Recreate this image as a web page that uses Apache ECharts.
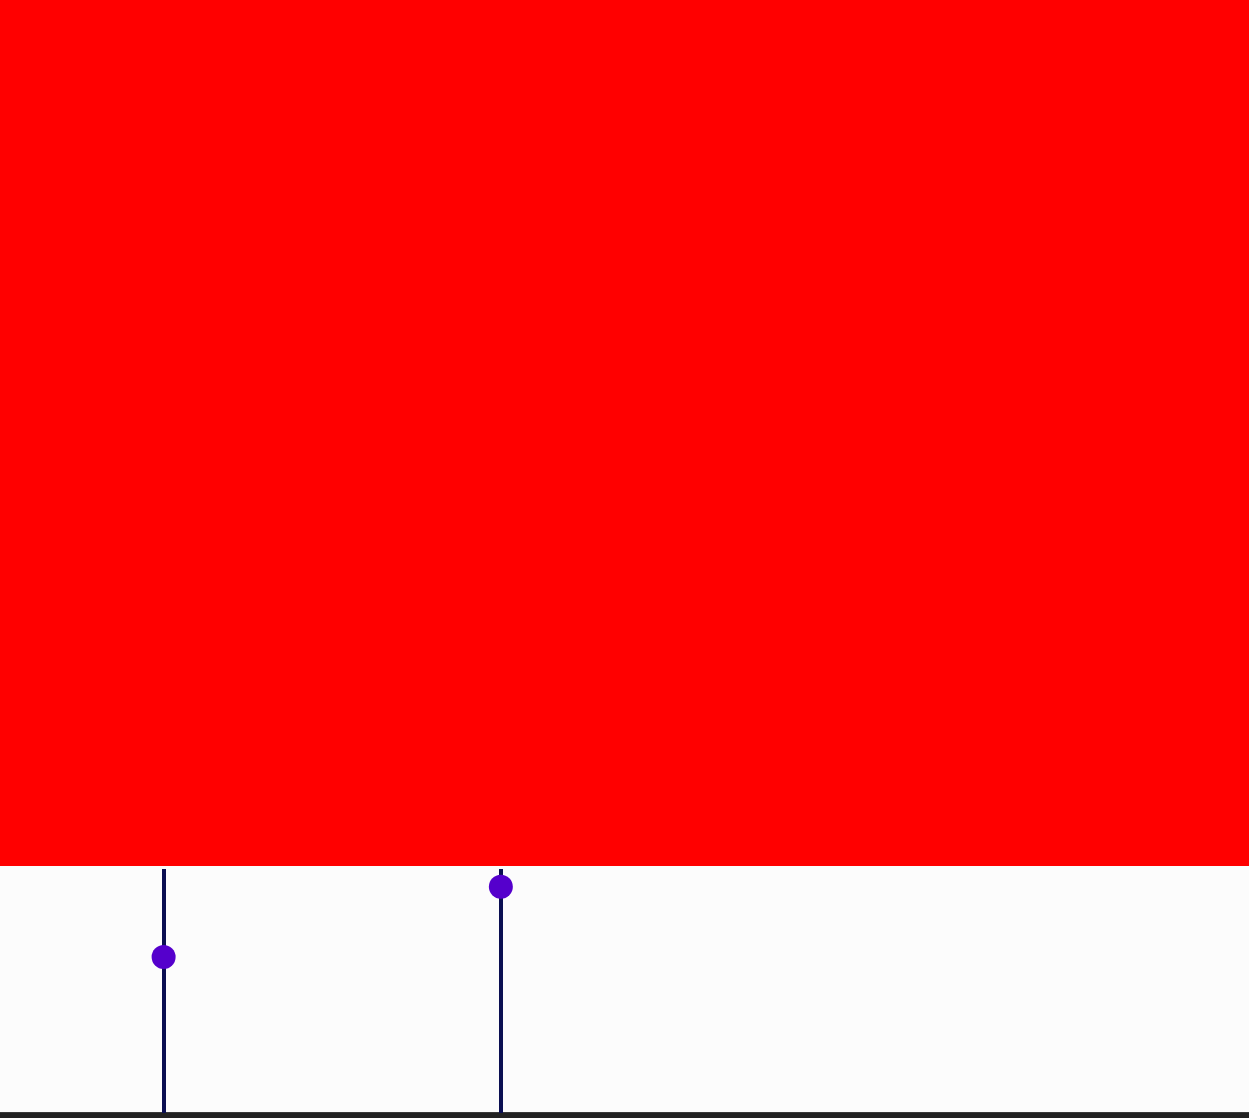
<!DOCTYPE html>
<html>
<head>
<meta charset="utf-8">
<script src="https://cdn.jsdelivr.net/npm/echarts@6/dist/echarts.min.js"></script>
<style>
  html, body { margin: 0; padding: 0; background: #fcfcfc; }
  #main { width: 1249px; height: 1118px; }
</style>
</head>
<body>
<div id="main"></div>
<script>
// positions of the two lollipops (x) and their heights (y)
let xValues = [13.1, 40.1];
let yValues = [63.9, 92.7];

let points = xValues.map(function (x, i) { return [x, yValues[i]]; });
let stems = xValues.map(function (x) { return { xAxis: x }; });

let myChart = echarts.init(document.getElementById('main'));

let option = {
  backgroundColor: '#fcfcfc',
  animation: false,
  grid: [
    // red panel on top
    { left: 0, right: 0, top: 0, height: 866, show: true, backgroundColor: '#ff0000', borderWidth: 0 },
    // lollipop panel
    { left: 0, right: 0, top: 869, bottom: 5, show: false }
  ],
  xAxis: [
    { gridIndex: 0, type: 'value', show: false, min: 0, max: 100 },
    { gridIndex: 1, type: 'value', min: 0, max: 100, show: false }
  ],
  yAxis: [
    { gridIndex: 0, type: 'value', show: false, min: 0, max: 100 },
    { gridIndex: 1, type: 'value', min: 0, max: 100, show: false }
  ],
  series: [
    {
      type: 'scatter',
      xAxisIndex: 1,
      yAxisIndex: 1,
      data: points,
      symbolSize: 24,
      itemStyle: { color: '#5500cc', opacity: 1 },
      z: 5,
      markLine: {
        silent: true,
        symbol: 'none',
        label: { show: false },
        lineStyle: { color: '#0b0f52', width: 4, type: 'solid' },
        data: stems,
        z: 2
      }
    }
  ],
  graphic: [
    // baseline under the lollipop panel
    { type: 'rect', left: 0, bottom: 0, shape: { width: 1249, height: 5 }, style: { fill: '#222222' } },
    { type: 'rect', left: 0, bottom: 5, shape: { width: 1249, height: 1 }, style: { fill: '#3a3a3a' } }
  ]
};

myChart.setOption(option);
</script>
</body>
</html>
